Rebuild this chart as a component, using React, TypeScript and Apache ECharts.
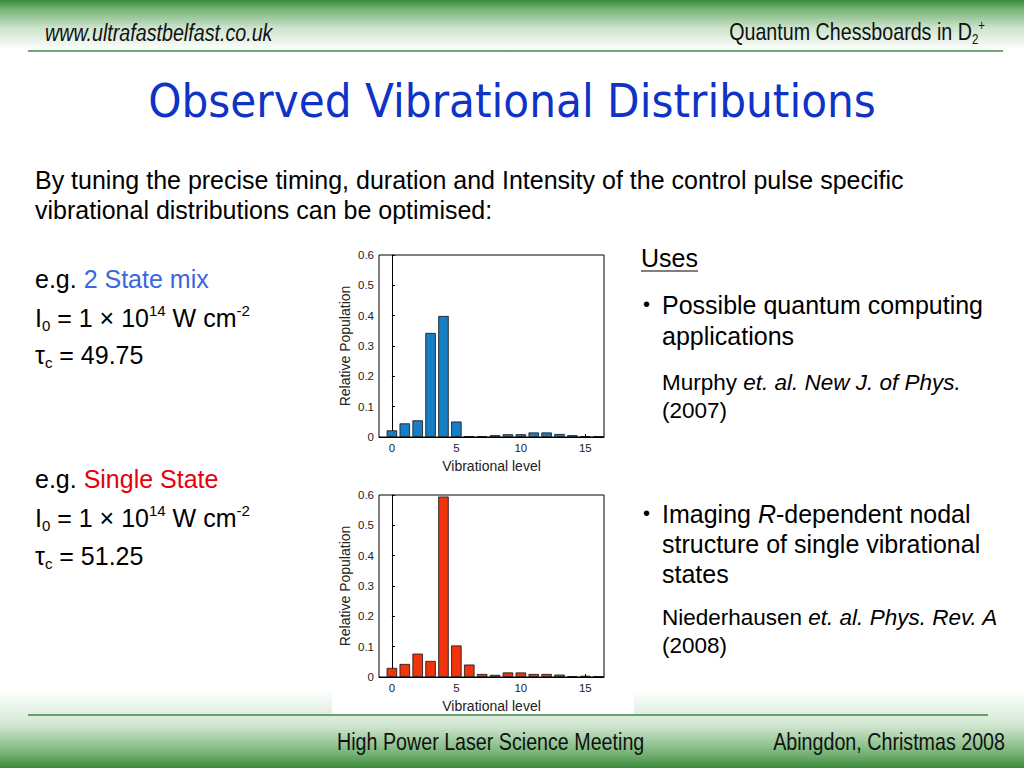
import React, { useEffect, useRef } from "react";
import * as echarts from "echarts";

// ---- data ----
const levels = [0, 1, 2, 3, 4, 5, 6, 7, 8, 9, 10, 11, 12, 13, 14, 15, 16];
const twoStateMix = [0.022, 0.045, 0.055, 0.343, 0.399, 0.051, 0.003, 0.003, 0.006, 0.009, 0.009, 0.015, 0.015, 0.01, 0.006, 0.003, 0.003];
const singleState = [0.03, 0.043, 0.077, 0.053, 0.595, 0.104, 0.041, 0.01, 0.007, 0.015, 0.015, 0.01, 0.01, 0.008, 0.003, 0.004, 0.003];
const xTickValues = [0, 5, 10, 15];
const yTickMax = 0.6;
const yTickStep = 0.1;

const SANS = "'Liberation Sans', Arial, sans-serif";

function txt(x: number, y: number, text: string, o: any = {}) {
  const { scaleX, rich, align, ...style } = o;
  return {
    type: "text",
    x,
    y,
    scaleX: scaleX ?? 1,
    silent: true,
    style: {
      text,
      fill: "#000",
      fontSize: 25,
      fontFamily: SANS,
      textAlign: align ?? "left",
      align: align ?? "left",
      textVerticalAlign: "middle",
      verticalAlign: "middle",
      rich,
      ...style,
    },
  };
}

const subSup = (size: number, lh: number, color = "#000") => ({
  n: { fontSize: size, lineHeight: lh, fontFamily: SANS, fill: color },
  sub: { fontSize: Math.round(size * 0.6), lineHeight: Math.round(lh * 0.46), verticalAlign: "bottom", fontFamily: SANS, fill: color },
  sup: { fontSize: Math.round(size * 0.6), lineHeight: Math.round(lh * 0.66), verticalAlign: "top", fontFamily: SANS, fill: color },
  i: { fontSize: size, lineHeight: lh, fontStyle: "italic", fontFamily: SANS, fill: color },
  blue: { fontSize: size, lineHeight: lh, fontFamily: SANS, fill: "#3a66e0" },
  red: { fontSize: size, lineHeight: lh, fontFamily: SANS, fill: "#e8000b" },
});

function buildOption() {
  const r25 = subSup(25, 30);
  const r22 = subSup(22.5, 28);
  const graphic: any[] = [
    // header gradient
    {
      type: "rect",
      shape: { x: 0, y: 0, width: 1024, height: 50 },
      silent: true,
      style: {
        fill: new echarts.graphic.LinearGradient(0, 0, 0, 1, [
          { offset: 0, color: "#3a8a3a" },
          { offset: 0.18, color: "#74b274" },
          { offset: 0.55, color: "#cbe3cb" },
          { offset: 1, color: "#ffffff" },
        ]),
      },
    },
    { type: "line", silent: true, shape: { x1: 28, y1: 51, x2: 1003, y2: 51 }, style: { stroke: "#3f8a3f", lineWidth: 1.5 } },
    // footer gradient
    {
      type: "rect",
      shape: { x: 0, y: 690, width: 1024, height: 78 },
      silent: true,
      style: {
        fill: new echarts.graphic.LinearGradient(0, 0, 0, 1, [
          { offset: 0, color: "#ffffff" },
          { offset: 0.45, color: "#d2e7d2" },
          { offset: 0.82, color: "#74b274" },
          { offset: 1, color: "#3a8a3a" },
        ]),
      },
    },
    { type: "rect", silent: true, shape: { x: 332, y: 688, width: 302, height: 26 }, style: { fill: "#ffffff" } },
    { type: "line", silent: true, shape: { x1: 28, y1: 715, x2: 988, y2: 715 }, style: { stroke: "#3f8a3f", lineWidth: 1.5 } },

    // header / footer texts
    txt(45, 33, "www.ultrafastbelfast.co.uk", { fontSize: 24, fontStyle: "italic", scaleX: 0.82, fill: "#111" }),
    txt(985, 32, "{n|Quantum Chessboards in D}{sub|2}{sup|+}", {
      align: "right",
      scaleX: 0.82,
      rich: subSup(24, 28, "#111"),
      fill: "#111",
      fontSize: 24,
    }),
    txt(337, 742, "High Power Laser Science Meeting", { fontSize: 24, scaleX: 0.82, fill: "#111" }),
    txt(1005, 742, "Abingdon, Christmas 2008", { fontSize: 24, scaleX: 0.82, fill: "#111", align: "right" }),

    // title
    txt(512, 101, "Observed Vibrational Distributions", {
      align: "center",
      fontSize: 47,
      fontFamily: "'DejaVu Sans', Verdana, sans-serif",
      scaleX: 0.9,
      fill: "#0f33c4",
    }),

    // body
    txt(35, 180, "By tuning the precise timing, duration and Intensity of the control pulse specific"),
    txt(35, 210, "vibrational distributions can be optimised:"),

    txt(35, 279, "{n|e.g. }{blue|2 State mix}", { rich: r25 }),
    txt(35, 318, "{n|I}{sub|0}{n| = 1 × 10}{sup|14}{n| W cm}{sup|-2}", { rich: r25 }),
    txt(35, 355, "{n|τ}{sub|c}{n| = 49.75}", { rich: r25 }),

    txt(35, 479, "{n|e.g. }{red|Single State}", { rich: r25 }),
    txt(35, 518, "{n|I}{sub|0}{n| = 1 × 10}{sup|14}{n| W cm}{sup|-2}", { rich: r25 }),
    txt(35, 556, "{n|τ}{sub|c}{n| = 51.25}", { rich: r25 }),

    txt(641, 258, "Uses"),
    { type: "line", silent: true, shape: { x1: 641, y1: 271, x2: 698, y2: 271 }, style: { stroke: "#000", lineWidth: 1.2 } },
    txt(643, 304, "•", { fontSize: 20 }),
    txt(662, 305, "Possible quantum computing"),
    txt(662, 336, "applications"),
    txt(662, 382, "{n|Murphy }{i|et. al. New J. of Phys.}", { rich: r22, fontSize: 22.5 }),
    txt(662, 410, "(2007)", { fontSize: 22.5 }),

    txt(643, 513, "•", { fontSize: 20 }),
    txt(662, 514, "{n|Imaging }{i|R}{n|-dependent nodal}", { rich: r25 }),
    txt(662, 544, "structure of single vibrational"),
    txt(662, 574, "states"),
    txt(662, 617, "{n|Niederhausen }{i|et. al. Phys. Rev. A}", { rich: r22, fontSize: 22.5 }),
    txt(662, 645, "(2008)", { fontSize: 22.5 }),
  ];

  const gridBase = { left: 379, width: 225, height: 182, show: true, borderColor: "#000", borderWidth: 1, backgroundColor: "#fff", containLabel: false };
  const axisText = { color: "#222", fontFamily: SANS, fontSize: 11.5 };

  const xAxis = (gridIndex: number) => ({
    type: "value",
    gridIndex,
    min: -1,
    max: 16.45,
    name: "Vibrational level",
    nameLocation: "middle",
    nameGap: 22,
    nameTextStyle: { ...axisText, fontSize: 14 },
    axisLine: { show: true, onZero: false, lineStyle: { color: "#000", width: 1 } },
    axisTick: { show: true, inside: true, length: 3, customValues: xTickValues, lineStyle: { color: "#000" } },
    axisLabel: { ...axisText, margin: 5, customValues: xTickValues },
    splitLine: { show: false },
  });
  const yAxis = (gridIndex: number) => ({
    type: "value",
    gridIndex,
    min: 0,
    max: yTickMax,
    interval: yTickStep,
    name: "Relative Population",
    nameLocation: "middle",
    nameGap: 27,
    nameTextStyle: { ...axisText, fontSize: 14 },
    axisLine: { show: true, lineStyle: { color: "#000", width: 1 } },
    axisTick: { show: true, inside: true, length: 3, lineStyle: { color: "#000" } },
    axisLabel: { ...axisText, margin: 5, formatter: (v: number) => String(Math.round(v * 10) / 10) },
    splitLine: { show: false },
  });

  return {
    animation: false,
    backgroundColor: "#fff",
    grid: [
      { ...gridBase, top: 255 },
      { ...gridBase, top: 495 },
    ],
    xAxis: [xAxis(0), xAxis(1)],
    yAxis: [yAxis(0), yAxis(1)],
    series: [
      {
        type: "bar",
        xAxisIndex: 0,
        yAxisIndex: 0,
        barWidth: 10.5,
        data: levels.map((l, i) => [l, twoStateMix[i]]),
        itemStyle: { color: "#167ec4", borderColor: "#111", borderWidth: 0.8 },
      },
      {
        type: "bar",
        xAxisIndex: 1,
        yAxisIndex: 1,
        barWidth: 10.5,
        data: levels.map((l, i) => [l, singleState[i]]),
        itemStyle: { color: "#f0340c", borderColor: "#111", borderWidth: 0.8 },
      },
    ],
    graphic,
  };
}

export default function App() {
  const ref = useRef<HTMLDivElement>(null);
  useEffect(() => {
    if (!ref.current) return;
    const chart = echarts.init(ref.current, undefined, { renderer: "svg" });
    chart.setOption(buildOption() as any);
    return () => chart.dispose();
  }, []);
  return <div ref={ref} style={{ position: "absolute", left: 0, top: 0, width: 1024, height: 768 }} />;
}
